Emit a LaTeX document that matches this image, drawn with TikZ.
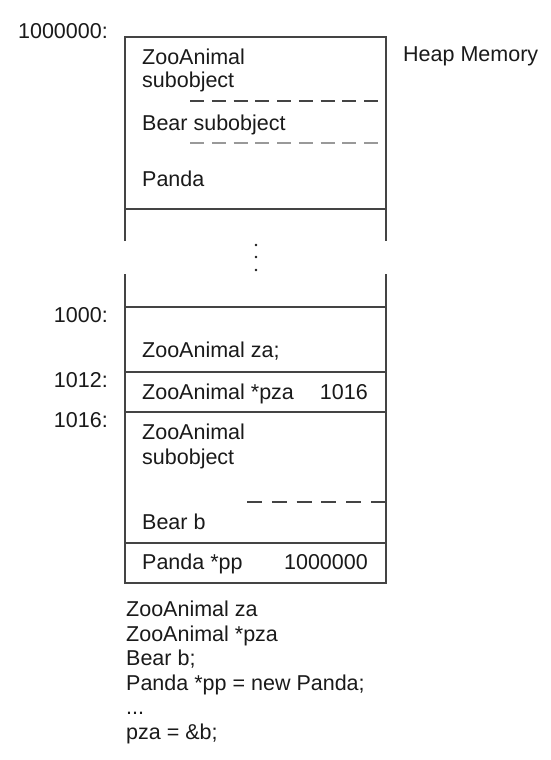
\documentclass[tikz,border=0pt]{standalone}
\usepackage{fontspec}
\setmainfont{Liberation Sans}
\definecolor{ink}{HTML}{1A1A1A}
\definecolor{rule}{HTML}{444444}
\definecolor{lightrule}{HTML}{999999}
\begin{document}
\begin{tikzpicture}[x=1pt,y=-1pt,
  txt/.style={inner sep=0pt,anchor=base west,text=ink,font=\fontsize{21.5}{25}\selectfont},
  rtxt/.style={txt,anchor=base east},
  wall/.style={draw=rule,line width=1.3pt},
  sep/.style={draw=rule,line width=1.3pt,dash pattern=on 14pt off 7.75pt},
  sepgray/.style={draw=lightrule,line width=1.3pt,dash pattern=on 14pt off 7.75pt},
  sepb/.style={draw=rule,line width=1.3pt,dash pattern=on 15pt off 9.8pt}]
\useasboundingbox (0,0) rectangle (551,760);
\fill[white] (0,0) rectangle (551,760);
% heap block
\draw[wall] (125,241) -- (125,37) -- (386,37) -- (386,241);
\draw[wall] (125,209) -- (386,209);
\draw[sep] (190,101) -- (378,101);
\draw[sepgray] (190,143) -- (378,143);
% dots
\foreach \yy in {245,257,270} \fill[ink] (256,\yy) circle (1.3pt);
% stack block
\draw[wall] (125,274) -- (125,583) -- (386,583) -- (386,274);
\foreach \yy in {307,372,412,543} \draw[wall] (125,\yy) -- (386,\yy);
\draw[sepb] (247,502) -- (386,502);
% labels
\node[rtxt] (a1) at (108,38) {1000000:};
\node[txt] (heap) at (403,62) {Heap Memory};
\node[txt] (h1) at (142,64) {ZooAnimal};
\node[txt] (h2) at (142,88) {subobject};
\node[txt] (h3) at (142,130) {Bear subobject};
\node[txt] (h4) at (142,186) {Panda};
\node[rtxt] (a2) at (108,322) {1000:};
\node[rtxt] (a3) at (108,387) {1012:};
\node[rtxt] (a4) at (108,427) {1016:};
\node[txt] (s1) at (142,357) {ZooAnimal za;};
\node[txt] (s2) at (142,399) {ZooAnimal *pza};
\node[rtxt] (s2v) at (368,399) {1016};
\node[txt] (s3) at (142,439) {ZooAnimal};
\node[txt] (s4) at (142,464) {subobject};
\node[txt] (s5) at (142,529) {Bear b};
\node[txt] (s6) at (142,569) {Panda *pp};
\node[rtxt] (s6v) at (368,569) {1000000};
% code
\node[txt] (c1) at (126,616) {ZooAnimal za};
\node[txt] (c2) at (126,641) {ZooAnimal *pza};
\node[txt] (c3) at (126,665) {Bear b;};
\node[txt] (c4) at (126,690) {Panda *pp = new Panda;};
\node[txt] (c5) at (126,714) {...};
\node[txt] (c6) at (126,739) {pza = \&b;};
\end{tikzpicture}
\end{document}
